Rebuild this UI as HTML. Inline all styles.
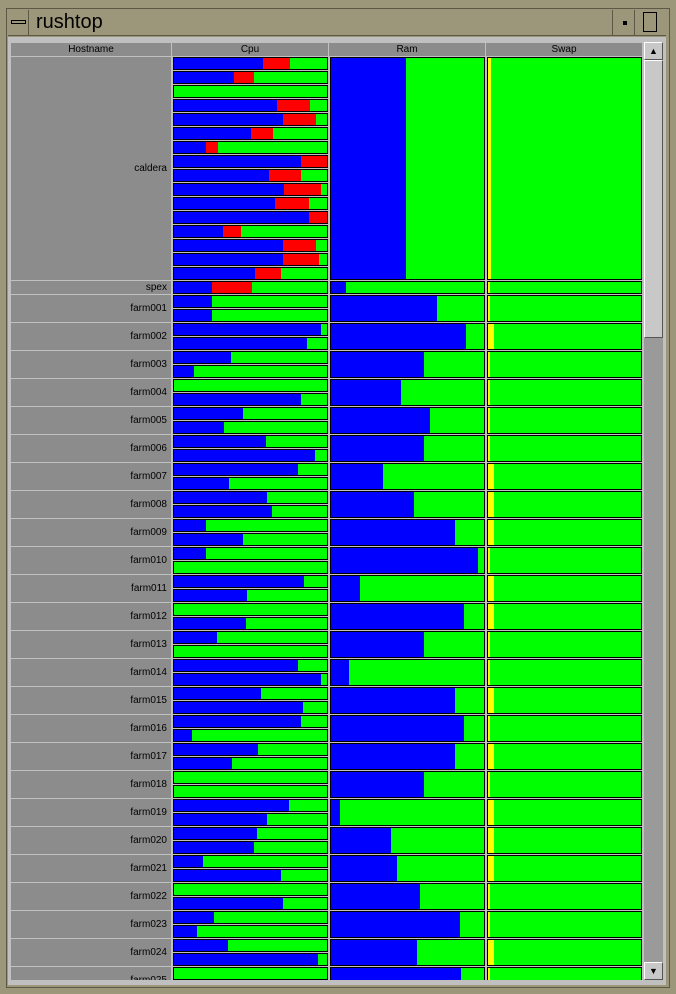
<!DOCTYPE html>
<html><head><meta charset="utf-8"><style>
body{margin:0;width:676px;height:994px;overflow:hidden;background:#9c977b;font-family:"Liberation Sans",sans-serif;position:relative}
div{box-sizing:border-box}
.abs{position:absolute}
.hdr{position:absolute;top:43px;height:13px;background:#8c8c8c;font-size:10px;text-align:center;line-height:13px;color:#000}
.host{position:absolute;left:11px;width:160px;background:#8c8c8c;font-size:10px;text-align:right;padding-right:4px;color:#000}
.bar{position:absolute;border:1px solid #000;background:#00ff00;overflow:hidden}
.seg{position:absolute;top:0;bottom:0}
</style></head><body>
<div class="abs" style="left:6px;top:8px;width:664px;height:980px;border:1px solid #5c5846;background:#9c977b"></div>
<div class="abs" style="left:8px;top:10px;width:658px;height:26px;background:#9c977b;border-bottom:1px solid #5c5846">
  <div class="abs" style="left:0;top:0;width:21px;height:25px;border-right:1px solid #5c5846"><div class="abs" style="left:3px;top:10px;width:15px;height:4px;border:1px solid #000"></div></div>
  <div class="abs" style="left:28px;top:0;font-size:20px;line-height:24px;color:#000">rushtop</div>
  <div class="abs" style="left:604px;top:0;width:22px;height:25px;border-left:1px solid #5c5846"><div class="abs" style="left:10px;top:11px;width:4px;height:4px;background:#000"></div></div>
  <div class="abs" style="left:626px;top:0;width:32px;height:25px;border-left:1px solid #5c5846"><div class="abs" style="left:8px;top:2px;width:14px;height:20px;border:1px solid #000"></div></div>
</div>
<div class="abs" style="left:8px;top:37px;width:658px;height:948px;background:#c0c0c0;overflow:hidden" id="content"></div>
<div class="abs" id="table" style="left:0;top:0;width:644px;height:980px;overflow:hidden;clip-path:inset(43px 0 0 0)"></div>
<div class="hdr" style="left:11px;width:160px">Hostname</div>
<div class="hdr" style="left:172px;width:156px">Cpu</div>
<div class="hdr" style="left:329px;width:156px">Ram</div>
<div class="hdr" style="left:486px;width:156px">Swap</div>
<div class="abs" style="left:644px;top:42px;width:19px;height:938px;background:#9a9a9a">
  <div class="abs" style="left:0;top:0;width:19px;height:18px;background:#c8c8c8;border:1px solid;border-color:#fff #555 #555 #fff;font-size:9px;text-align:center;line-height:16px">▲</div>
  <div class="abs" style="left:0;top:18px;width:19px;height:278px;background:#c8c8c8;border:1px solid;border-color:#fff #555 #555 #fff"></div>
  <div class="abs" style="left:0;top:920px;width:19px;height:18px;background:#c8c8c8;border:1px solid;border-color:#fff #555 #555 #fff;font-size:9px;text-align:center;line-height:16px">▼</div>
</div>
<script>
const hosts=["caldera","spex","farm001","farm002","farm003","farm004","farm005","farm006","farm007","farm008","farm009","farm010","farm011","farm012","farm013","farm014","farm015","farm016","farm017","farm018","farm019","farm020","farm021","farm022","farm023","farm024","farm025"];
const cpuUser=[[58,39,0,67,71,50,21,83,62,72,66,88,32,71,71,53],[25],[25,25],[96,87],[37,13],[0,83],[45,33],[60,92],[81,36],[61,64],[21,45],[21,0],[85,48],[0,47],[28,0],[81,96],[57,84],[83,12],[55,38],[0,0],[75,61],[54,52],[19,70],[0,71],[26,15],[35,94],[0,0]];
const cpuSys=[[18,13,0,22,22,15,8,17,21,24,22,12,12,22,24,17],[26],[0,0],[0,0],[0,0],[0,0],[0,0],[0,0],[0,0],[0,0],[0,0],[0,0],[0,0],[0,0],[0,0],[0,0],[0,0],[0,0],[0,0],[0,0],[0,0],[0,0],[0,0],[0,0],[0,0],[0,0],[0,0]];
const ramUsed=[49,10,69,88,61,46,65,61,34,54,81,96,19,87,61,12,81,87,81,61,6,39,43,58,84,56,85];
const swapUsed=[2,1.5,1.5,4,1,1,1,1,4,4,4,1,4,4,1,1,4,1,4,1,4,4,4,1,1,4,1];
const T=document.getElementById('table');
const SLOT=14, TOP=57;
function bx(x,w){return x;}
function bar(name,x,y,w,h,segs){
  const b=document.createElement('div');
  b.className='bar';
  
  
  b.style.left=x+'px';b.style.top=y+'px';b.style.width=w+'px';b.style.height=h+'px';
  let acc=0;const iw=w-2;
  segs.forEach(s=>{
    const d=document.createElement('div');d.className='seg';
    
    
    d.style.left=(acc/100*iw)+'px';d.style.width=(s[0]/100*iw)+'px';d.style.background=s[1];
    acc+=s[0];b.appendChild(d);
  });
  T.appendChild(b);
}
let y=TOP;
hosts.forEach((h,i)=>{
  const n=cpuUser[i].length;
  const H=n*SLOT;
  const hc=document.createElement('div');hc.className='host';
  
  
  hc.style.top=y+'px';hc.style.height=(H-1)+'px';hc.style.lineHeight=(H-1)+'px';hc.textContent=h;
  T.appendChild(hc);
  for(let k=0;k<n;k++){
    bar('cpu-bar-'+h+'-'+k,173,y+k*SLOT,155,SLOT-1,[[cpuUser[i][k],'#0000ff','cpu-user'],[cpuSys[i][k],'#ff0000','cpu-system']]);
  }
  bar('ram-bar-'+h,330,y,155,H-1,[[ramUsed[i],'#0000ff','ram-used']]);
  bar('swap-bar-'+h,487,y,155,H-1,[[swapUsed[i],'#ffff00','swap-used']]);
  y+=H;
});
</script>
</body></html>
